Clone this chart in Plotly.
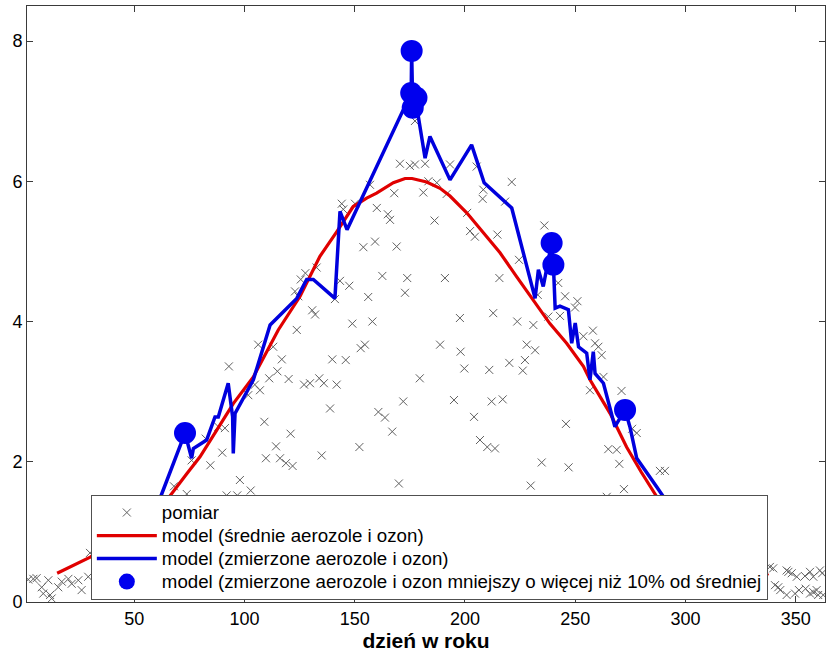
import plotly.graph_objects as go

# measurement crosses (day, value)
meas_day = [1.9, 4.2, 5.7, 8, 8.7, 11, 11.8, 12.5, 15.5, 17.1, 20.1, 21.6, 24.6, 26.1, 29.1, 29.9,
            68, 73.8, 76, 82.4, 84.5, 88.1, 89.9, 91.1, 91.9, 92.9, 96.7, 97.9, 101.7, 102.8, 104.7,
            106.2, 107, 109, 109.7, 111.2, 113, 114.3, 114.9, 116.1, 116.9, 118.8, 120, 120.9, 121.8,
            122.9, 123.7, 124.4, 125.5, 127, 127.6, 129.7, 130.7, 132, 132.7, 133.9, 135, 136, 138.8,
            139.8, 141, 141.8, 143.3, 144.1, 144.8, 145.9, 147.5, 148.9, 150.1, 152.1, 152.7, 153.9,
            154.6, 156.1, 156.9, 158, 159.2, 160, 160.7, 162.5, 163.7, 165, 166, 167, 167.9, 169, 170,
            170.5, 172, 172.8, 173.8, 175, 177.3, 177.3, 179.5, 181.1, 181.9, 183.4, 186.2, 187.2,
            188.7, 190.9, 191.7, 193.2, 195, 197.7, 198, 199.7, 201, 202.3, 204.1, 204.5, 205.3,
            206.8, 208, 208.3, 210.1, 211, 212.1, 212.8, 213.6, 214.7, 215.6, 217.1, 218.2, 220.1,
            221.2, 223.7, 224.5, 226.2, 227.2, 228, 229.8, 231, 231.8, 233, 234.8, 236, 237.8, 242.3,
            243.1, 245.4, 245.8, 247, 249.9, 251, 253.7, 256.7, 258, 259, 260.5, 262, 262.8, 264.3,
            265, 268.8, 270, 271, 272.1, 275.8, 277.9, 288.4, 290.7,
            338.3, 339.8, 340.6, 342.1, 343, 345.9, 346.7, 345.9, 348.2, 349.7, 350.5, 351.5, 354.2,
            354.5, 356.5, 356.5, 358, 358, 359.5, 360.2, 361, 362, 362.5]
meas_val = [0.32, 0.33, 0.34, 0.21, 0.12, 0.31, 0.10, 0.05, 0.21, 0.29, 0.33, 0.26, 0.31, 0.17, 0.36, 0.70,
            1.65, 1.54, 2.02, 2.33, 1.95, 2.5, 2.13, 2.48, 1.52, 3.36, 1.52, 1.74, 2.95, 1.59, 3.1,
            3.67, 3.02, 2.57, 2.05, 3.19, 3.64, 2.22, 3.29, 2.05, 3.46, 1.98, 3.18, 2.4, 1.94,
            4.43, 3.88, 4.36, 4.6, 3.1, 4.69, 3.12, 4.16, 4.1, 4.77, 3.19, 2.09, 3.12, 2.76,
            3.46, 4.32, 3.1, 4.58, 5.68, 5.6, 3.45, 4.51, 3.97, 5.68, 2.21, 3.62, 5.06,
            3.67, 4.35, 5.95, 4.0, 5.14, 5.62, 2.71, 4.65, 2.63, 5.53, 5.45, 2.43, 5.83, 5.07, 1.69,
            6.25, 2.86, 4.41, 4.62, 6.22, 6.24, 6.86, 3.19, 5.84, 6.25, 6.0, 5.44, 5.98,
            3.67, 4.62, 5.82, 6.24, 2.88, 4.05, 3.57, 3.33, 5.55, 5.29, 2.64, 5.21, 6.21,
            2.31, 5.75, 5.88, 2.21, 3.31, 2.86, 4.12, 2.19, 5.24, 4.62, 2.89, 5.71, 3.41,
            5.99, 4.0, 4.88, 3.3, 3.45, 3.67, 1.66, 3.95, 3.59, 4.38, 1.99, 5.37, 4.07, 4.55,
            4.08, 4.36, 2.54, 1.92, 4.2, 4.29, 3.79, 3.02, 3.87, 3.69, 3.64, 3.52, 3.21, 1.5,
            2.18, 2.17, 1.97, 3.01, 1.61, 2.47, 2.41, 1.87, 1.87,
            0.5, 0.48, 0.24, 0.21, 0.17, 0.45, 0.43, 0.10, 0.41, 0.12, 0.36, 0.17, 0.37,
            0.19, 0.43, 0.12, 0.36, 0.14, 0.17, 0.1, 0.45, 0.41, 0.1]

# model with mean aerosols and ozone
red_day = [15, 22, 30, 40, 50, 58, 65.4, 73.8, 79.8, 87.4, 94.9, 104, 115.3, 125.2, 134.2, 141.8,
           149.3, 155.4, 159.9, 167.5, 172.8, 176, 182.6, 188.7, 193.2, 200.8, 208.3, 215.9, 223.4,
           231, 238.5, 246.1, 253.7, 256.7, 265.8, 273.3, 280, 287, 300, 315, 330, 337.6]
red_val = [0.41, 0.52, 0.64, 0.85, 1.08, 1.28, 1.48, 1.83, 2.07, 2.45, 2.83, 3.21, 3.88, 4.36, 4.93, 5.28,
           5.64, 5.76, 5.83, 5.98, 6.04, 6.04, 5.99, 5.9, 5.79, 5.55, 5.26, 4.98, 4.64,
           4.3, 3.97, 3.69, 3.36, 3.17, 2.69, 2.21, 1.85, 1.5, 1.1, 0.75, 0.5, 0.38]

# model with measured aerosols and ozone
blue_day = [45, 55, 61.7, 73, 76, 76.8, 82.8, 86.6, 88.1, 92.6, 94.6, 94.9, 95.7, 104, 111.6, 123.7,
            128.2, 131.2, 141, 142.6, 143.3, 146.5, 172, 175.6, 175.8, 176.3, 178, 178.8, 181.9,
            184.1, 193.2, 203, 208.7, 221.2, 231.8, 233.3, 235.5, 239.3, 240.1, 240.9, 243.1, 246.9,
            248.4, 250, 251.5, 255.2, 256.7, 258.2, 259, 262.8, 268, 272.6, 274.8, 277.9, 287, 290,
            300, 310, 320]
blue_val = [0.8, 1.05, 1.48, 2.41, 2.05, 2.19, 2.31, 2.64, 2.64, 3.12, 2.64, 2.12, 2.69, 3.17, 3.95, 4.33,
            4.6, 4.6, 4.33, 5.31, 5.57, 5.31, 7.02, 7.26, 7.86, 7.05, 7.19, 6.93, 6.33,
            6.64, 6.02, 6.52, 5.98, 5.62, 4.33, 4.74, 4.5, 5.12, 4.81, 4.19, 4.22, 4.17,
            3.69, 3.98, 3.64, 3.55, 3.17, 3.57, 3.26, 3.12, 2.5, 2.74, 2.5, 2.05, 1.64, 1.5,
            1.1, 0.8, 0.6]

# days where measured-input model is >10% below mean-input model
dot_day = [73, 175.8, 175.6, 178, 176.3, 239.3, 240.1, 272.6]
dot_val = [2.41, 7.86, 7.26, 7.19, 7.05, 5.12, 4.81, 2.74]

x_ticks = [50, 100, 150, 200, 250, 300, 350]
y_ticks = [0, 2, 4, 6, 8]

legend_names = ["pomiar",
                "model (średnie aerozole i ozon)",
                "model (zmierzone aerozole i ozon)",
                "model (zmierzone aerozole i ozon mniejszy o więcej niż 10% od średniej"]

FONT = "Liberation Sans, Arial, sans-serif"


def lg(name):
    return '<span style="font-size:18.7px">' + name + '</span>'


fig = go.Figure()
fig.add_trace(go.Scatter(x=meas_day, y=meas_val, mode="markers", name=lg(legend_names[0]),
                         marker=dict(symbol="x-thin", size=8, color="#606060",
                                     line=dict(width=1, color="#606060"))))
fig.add_trace(go.Scatter(x=red_day, y=red_val, mode="lines", name=lg(legend_names[1]),
                         line=dict(color="#e00000", width=3.2)))
fig.add_trace(go.Scatter(x=blue_day, y=blue_val, mode="lines", name=lg(legend_names[2]),
                         line=dict(color="#0000dd", width=3.5)))
fig.add_trace(go.Scatter(x=dot_day, y=dot_val, mode="markers", name=lg(legend_names[3]),
                         marker=dict(symbol="circle", size=22, color="#0000ee",
                                     line=dict(width=0))))

axis_common = dict(showline=True, linecolor="#3a3a3a", linewidth=1, mirror="allticks",
                   ticks="inside", ticklen=6, tickcolor="#3a3a3a", showgrid=False,
                   zeroline=False, tickfont=dict(family=FONT, size=18, color="black"))

fig.update_layout(
    width=827, height=654,
    margin=dict(l=27, r=2, t=6, b=52, autoexpand=False),
    paper_bgcolor="white", plot_bgcolor="white",
    font=dict(family=FONT, color="black"),
    xaxis=dict(range=[1.33, 363.3], tickvals=x_ticks, ticktext=[str(v) for v in x_ticks],
               title=dict(text="<b>dzień w roku</b>", font=dict(family=FONT, size=21), standoff=4),
               automargin=False, **axis_common),
    yaxis=dict(range=[0, 8.5], tickvals=y_ticks, ticktext=[str(v) for v in y_ticks],
               automargin=False, **axis_common),
    legend=dict(x=0.08, y=0.1795, xanchor="left", yanchor="top", bgcolor="white",
                bordercolor="#505050", borderwidth=1, font=dict(family=FONT, size=15.4),
                tracegroupgap=0, itemsizing="trace", itemwidth=60),
    showlegend=True,
)

fig.write_html("out.html", config={"displayModeBar": False},
               post_script="document.body.style.margin='0';document.body.style.overflow='hidden';")
